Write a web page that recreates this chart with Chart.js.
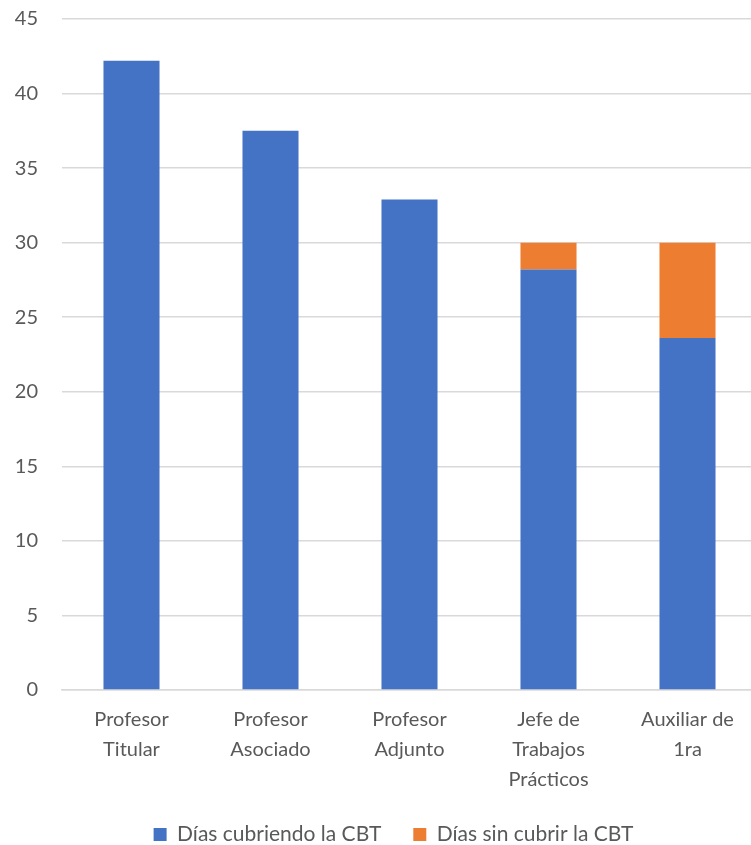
<!DOCTYPE html>
<html>
<head>
<meta charset="utf-8">
<script src="https://cdn.jsdelivr.net/npm/chart.js@4"></script>
<style>
  html, body { margin: 0; padding: 0; background: #fff; overflow: hidden; }
  #wrap { width: 757px; height: 845px; }
</style>
</head>
<body>
<div id="wrap"><canvas id="cbtChart"></canvas></div>
<script>
const categories = [
  ['Profesor', 'Titular'],
  ['Profesor', 'Asociado'],
  ['Profesor', 'Adjunto'],
  ['Jefe de', 'Trabajos', 'Prácticos'],
  ['Auxiliar de', '1ra']
];
const diasCubriendo = [42.2, 37.5, 32.9, 28.2, 23.6];
const diasSinCubrir = [0, 0, 0, 1.8, 6.4];
const yTicks = [0, 5, 10, 15, 20, 25, 30, 35, 40, 45];

const fontFam = 'Lato, "Liberation Sans", sans-serif';

// nudge the legend a bit to the right, like the original
const legendShift = {
  id: 'legendShift',
  afterLayout(chart) {
    if (chart.legend) chart.legend.left += 16;
  }
};

const ctx = document.getElementById('cbtChart').getContext('2d');
const cbtChart = new Chart(ctx, {
  type: 'bar',
  data: {
    labels: categories,
    datasets: [
      {
        label: 'Días cubriendo la CBT',
        data: diasCubriendo,
        backgroundColor: '#4472c4',
        categoryPercentage: 0.8,
        barPercentage: 0.504
      },
      {
        label: 'Días sin cubrir la CBT',
        data: diasSinCubrir,
        backgroundColor: '#ed7d31',
        categoryPercentage: 0.8,
        barPercentage: 0.504
      }
    ]
  },
  plugins: [legendShift],
  options: {
    responsive: true,
    maintainAspectRatio: false,
    animation: false,
    layout: { padding: { left: 14, right: 0, top: 19, bottom: -10 } },
    plugins: {
      legend: {
        position: 'bottom',
        labels: {
          font: { family: fontFam, size: 21 },
          color: '#595959',
          boxWidth: 13,
          boxHeight: 13,
          padding: 32
        }
      },
      tooltip: { enabled: false }
    },
    scales: {
      x: {
        stacked: true,
        grid: { display: false },
        border: { color: '#d9d9d9', width: 1.5 },
        ticks: {
          font: { family: fontFam, size: 20, lineHeight: 1.5 },
          color: '#595959',
          maxRotation: 0,
          padding: 7
        },
        afterFit: (s) => { s.paddingLeft = 0; s.paddingRight = 0; s.height = 102; }
      },
      y: {
        stacked: true,
        min: 0,
        max: 45,
        afterBuildTicks: (axis) => { axis.ticks = yTicks.map(v => ({ value: v })); },
        grid: { color: '#d9d9d9', lineWidth: 1.5, drawTicks: false },
        border: { display: false },
        ticks: {
          font: { family: fontFam, size: 20 },
          color: '#595959',
          padding: 24
        },
        afterFit: (s) => { s.paddingTop = 0; s.paddingBottom = 0; s.width = 48; }
      }
    }
  }
});
</script>
</body>
</html>
